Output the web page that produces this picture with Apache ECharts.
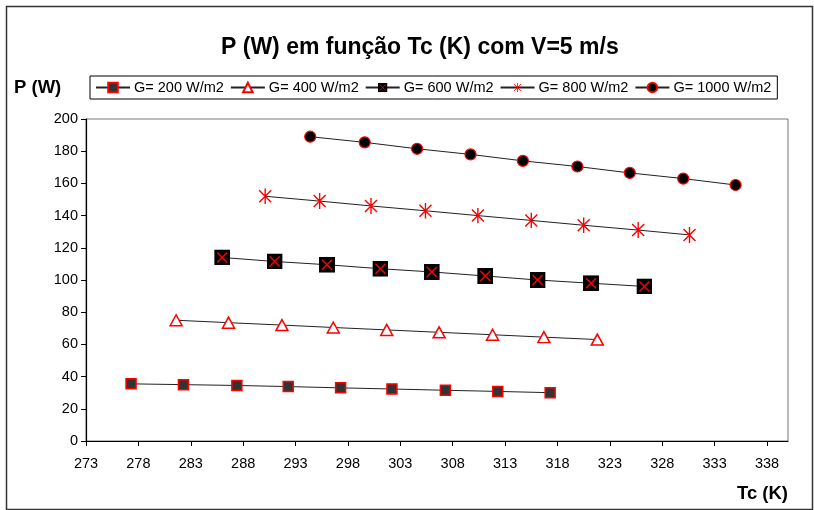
<!DOCTYPE html>
<html>
<head>
<meta charset="utf-8">
<script src="https://cdn.jsdelivr.net/npm/echarts@6/dist/echarts.min.js"></script>
<style>
html,body{margin:0;padding:0;background:#fff;}
#c{width:814px;height:510px;}
</style>
</head>
<body>
<div id="c"></div>
<script>
// Data
const seriesNames = ['G= 200 W/m2', 'G= 400 W/m2', 'G= 600 W/m2', 'G= 800 W/m2', 'G= 1000 W/m2'];
const tc200 = [277.3, 282.3, 287.4, 292.3, 297.3, 302.2, 307.3, 312.3, 317.3];
const p200 = [35.5, 35, 34.5, 33.8, 33, 32.3, 31.5, 30.8, 30];
const tc400 = [281.6, 286.6, 291.7, 296.6, 301.7, 306.7, 311.8, 316.7, 321.8];
const p400 = [75, 73.5, 72, 70.5, 69, 67.5, 66, 64.5, 63];
const tc600 = [286.0, 291.0, 296.0, 301.1, 306.0, 311.1, 316.1, 321.2, 326.3];
const p600 = [114, 111.5, 109.5, 107, 105, 102.5, 100, 98, 96];
const tc800 = [290.1, 295.3, 300.2, 305.4, 310.4, 315.5, 320.5, 325.7, 330.6];
const p800 = [152, 149, 146, 143, 140, 137, 134, 131, 128];
const tc1000 = [294.4, 299.6, 304.6, 309.7, 314.7, 319.9, 324.9, 330.0, 335.0];
const p1000 = [189, 185.5, 181.5, 178, 174, 170.5, 166.5, 163, 159];
const xTicks = [273, 278, 283, 288, 293, 298, 303, 308, 313, 318, 323, 328, 333, 338];
const yTicks = [0, 20, 40, 60, 80, 100, 120, 140, 160, 180, 200];

function pairs(xs, ys) { return xs.map((x, i) => [x, ys[i]]); }
function svgUri(s) { return 'image://data:image/svg+xml;charset=utf-8,' + encodeURIComponent(s); }

const sym600 = svgUri("<svg xmlns='http://www.w3.org/2000/svg' width='16' height='16'><rect x='0' y='0' width='16' height='16' fill='black'/><path d='M3,3 L13,13 M13,3 L3,13' stroke='red' stroke-width='1.4' fill='none'/></svg>");
const sym800 = svgUri("<svg xmlns='http://www.w3.org/2000/svg' width='16' height='16'><path d='M2,2 L14,14 M14,2 L2,14 M8,0 L8,16' stroke='red' stroke-width='1.4' fill='none'/></svg>");

const font = 'Liberation Sans, Arial, sans-serif';
const chart = echarts.init(document.getElementById('c'));

const lineStyle = { color: '#222', width: 1 };
const series = [
  { name: seriesNames[0], data: pairs(tc200, p200), symbol: 'rect', symbolSize: 10,
    itemStyle: { color: '#333', borderColor: '#f00', borderWidth: 1.5 } },
  { name: seriesNames[1], data: pairs(tc400, p400), symbol: 'triangle', symbolSize: [12, 11],
    itemStyle: { color: '#fff', borderColor: '#f00', borderWidth: 1.5 } },
  { name: seriesNames[2], data: pairs(tc600, p600), symbol: sym600, symbolSize: 16,
    itemStyle: { color: '#000' } },
  { name: seriesNames[3], data: pairs(tc800, p800), symbol: sym800, symbolSize: 16,
    itemStyle: { color: '#f00' } },
  { name: seriesNames[4], data: pairs(tc1000, p1000), symbol: 'circle', symbolSize: 11,
    itemStyle: { color: '#000', borderColor: '#f00', borderWidth: 1.2 } }
].map(s => Object.assign({ type: 'line', lineStyle: lineStyle, showSymbol: true, animation: false, z: 3 }, s));

chart.setOption({
  animation: false,
  backgroundColor: '#fff',
  textStyle: { fontFamily: font },
  title: {
    text: 'P (W) em função Tc (K) com V=5 m/s',
    left: 216, top: 31,
    textStyle: { fontFamily: font, fontSize: 23, fontWeight: 'bold', color: '#000' }
  },
  legend: {
    data: seriesNames,
    left: 90, top: 76,
    itemWidth: 34, itemHeight: 12, itemGap: 6,
    padding: [4, 6, 4, 5],
    borderColor: '#000', borderWidth: 1,
    textStyle: { fontFamily: font, fontSize: 14.5, color: '#000', padding: [0, 0, 0, -1] }
  },
  grid: { left: 86, right: 26, top: 119, bottom: 69, show: true, borderColor: '#777', borderWidth: 1 },
  xAxis: {
    type: 'value', min: 273, max: 340, interval: 5,
    axisLine: { show: true, onZero: false, lineStyle: { color: '#000', width: 1.2 } },
    axisTick: { show: true, inside: false, length: 5, customValues: xTicks, lineStyle: { color: '#000' } },
    axisLabel: { customValues: xTicks, color: '#000', fontSize: 14.5, fontFamily: font, margin: 15 },
    splitLine: { show: false },
    name: 'Tc (K)', nameLocation: 'end',
    nameTextStyle: { fontFamily: font, fontSize: 18.5, fontWeight: 'bold', color: '#000', align: 'right', verticalAlign: 'top', padding: [43, 0, 0, 0] },
    nameGap: 0
  },
  yAxis: {
    type: 'value', min: 0, max: 200, interval: 20,
    axisLine: { show: true, lineStyle: { color: '#000', width: 1.2 } },
    axisTick: { show: true, inside: false, length: 5, lineStyle: { color: '#000' } },
    axisLabel: { color: '#000', fontSize: 14.5, fontFamily: font, margin: 8 },
    splitLine: { show: false },
    name: 'P (W)', nameLocation: 'end',
    nameTextStyle: { fontFamily: font, fontSize: 18.5, fontWeight: 'bold', color: '#000', align: 'left', padding: [0, 0, 22, -72] },
    nameGap: 0
  },
  graphic: [
    { type: 'rect', left: 4, top: 4, shape: { width: 806, height: 503 }, style: { fill: 'none', stroke: '#333', lineWidth: 1.5 }, z: -1 }
  ],
  series: series
});
</script>
</body>
</html>
